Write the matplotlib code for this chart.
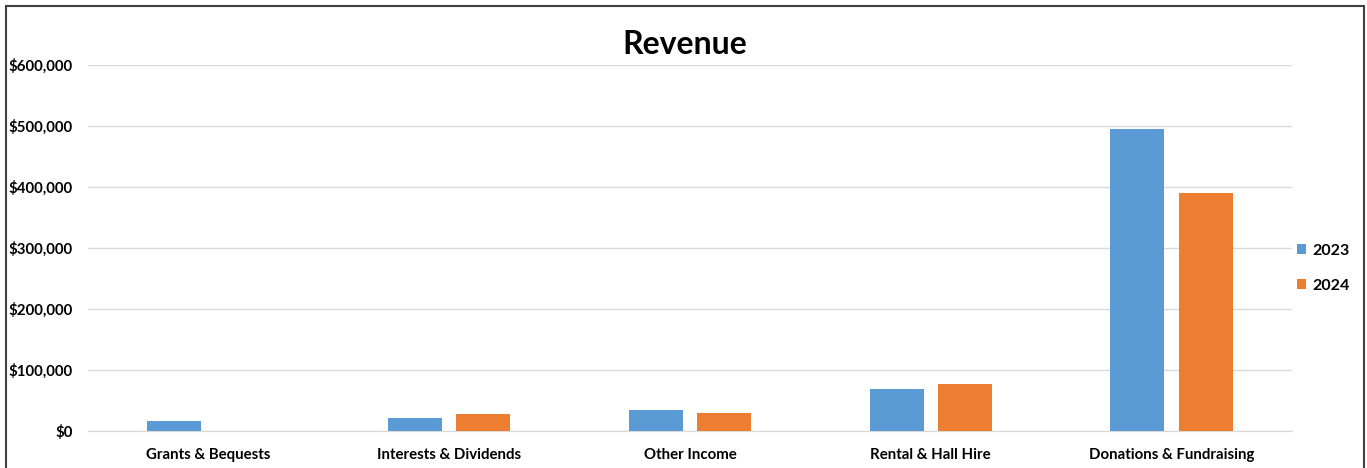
import matplotlib
matplotlib.use("Agg")
import matplotlib.pyplot as plt
import numpy as np
from matplotlib.ticker import FuncFormatter
from matplotlib.patches import Rectangle

plt.rcParams['font.family'] = ['Lato', 'DejaVu Sans']

categories = ["Grants & Bequests", "Interests & Dividends", "Other Income",
              "Rental & Hall Hire", "Donations & Fundraising"]
rev_2023 = [16000, 21000, 34000, 69000, 495000]
rev_2024 = [0, 28000, 30000, 76500, 390000]

blue = "#5b9bd5"
orange = "#ed7d31"

fig = plt.figure(figsize=(13.67, 4.68), dpi=100)
ax = fig.add_axes([88 / 1367, 1 - 431 / 468, (1292 - 88) / 1367, (431 - 65) / 468])

x = np.arange(len(categories))
w = 0.225
off = 0.142
ax.bar(x - off, rev_2023, w, color=blue, label="2023", zorder=3)
ax.bar(x + off, rev_2024, w, color=orange, label="2024", zorder=3)

ax.set_xlim(-0.5, len(categories) - 0.5)
ax.set_ylim(0, 600000)
ax.set_yticks(np.arange(0, 600001, 100000))
ax.yaxis.set_major_formatter(FuncFormatter(lambda v, p: f"${v:,.0f}"))
ax.set_xticks(x)
ax.set_xticklabels(categories)
ax.grid(axis="y", color="#d9d9d9", linewidth=1, zorder=0)
for s in ["top", "right", "left"]:
    ax.spines[s].set_visible(False)
ax.spines["bottom"].set_color("#d9d9d9")
ax.tick_params(axis="both", length=0, labelsize=10.8)
ax.tick_params(axis="y", pad=11)
ax.tick_params(axis="x", pad=12)
for lbl in ax.get_xticklabels() + ax.get_yticklabels():
    lbl.set_fontweight("bold")

fig.text(685 / 1367, 1 - 45 / 468, "Revenue", ha="center", va="center",
         fontsize=23, fontweight="bold")

leg = ax.legend(loc="center left", bbox_to_anchor=(0.992, 0.445), frameon=False,
                prop={"weight": "bold", "size": 11.5}, handlelength=0.6,
                handleheight=0.6, handletextpad=0.35, labelspacing=1.3)

fig.patches.append(Rectangle((6 / 1367, -0.05), (1364 - 6) / 1367, 1.05 - 6 / 468,
                             transform=fig.transFigure, fill=False,
                             edgecolor="#404040", linewidth=1.5))

fig.savefig("out.png", dpi=100)
